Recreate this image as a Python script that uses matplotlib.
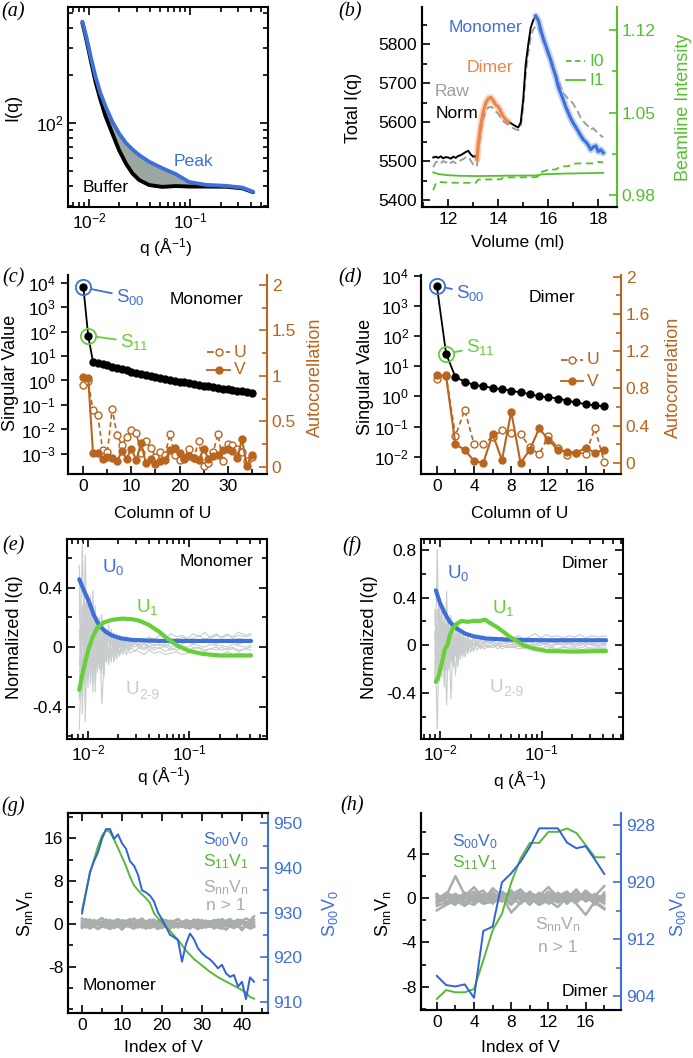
import numpy as np
import matplotlib
matplotlib.use('Agg')
import matplotlib.pyplot as plt
from matplotlib.lines import Line2D
from matplotlib.ticker import (MultipleLocator, NullFormatter, NullLocator, FuncFormatter,
                               LogLocator, FixedLocator)

plt.rcParams['font.family'] = ['Liberation Sans', 'DejaVu Sans']
plt.rcParams['mathtext.fontset'] = 'custom'
plt.rcParams['mathtext.rm'] = 'Liberation Sans'
plt.rcParams['mathtext.it'] = 'Liberation Sans:italic'
plt.rcParams['mathtext.default'] = 'regular'
plt.rcParams['axes.unicode_minus'] = False
plt.rcParams['font.size'] = 12.6
plt.rcParams['axes.linewidth'] = 1.5

BLUE = '#3f6fd9'
GREEN = '#66cf3a'
BGREEN = '#52c12c'
ORANGE = '#b8651f'
DIMER = '#ef8548'
GRAY = '#9b9f9f'
LGRAY = '#c8cccc'
DGRAY = '#a9adac'
TICK = 12.5
YLAB = 13

# ---------------- (a) buffer / peak scattering
q_a = [0.0086, 0.0094, 0.0104, 0.0116, 0.0130, 0.0146, 0.0170, 0.0198, 0.0231, 0.0269,
       0.0313, 0.0393, 0.0532, 0.0721, 0.0978, 0.143, 0.225, 0.33, 0.42]
peak_a = [438, 352, 263, 196, 154, 127, 102, 86, 75, 68, 62.7, 56.9, 51.7, 47.5, 42.3,
          40.6, 40.0, 39.0, 36.7]
buffer_a = [431, 339, 250, 182, 140, 110, 86, 67.5, 55.6, 48.0, 43.6, 40.5, 39.4, 39.9,
            39.6, 39.6, 39.5, 38.6, 36.5]

# ---------------- (b) elution profile
vol = [11.4, 11.5, 11.6, 11.7, 11.8, 11.9, 12.0, 12.1, 12.2, 12.3, 12.4, 12.5, 12.6, 12.7,
       12.8, 12.9, 13.0, 13.1, 13.15, 13.2, 13.3, 13.4, 13.5, 13.6, 13.7, 13.8, 13.9, 14.0,
       14.1, 14.2, 14.3, 14.4, 14.5, 14.6, 14.7, 14.8, 14.9, 15.0, 15.1, 15.2, 15.3, 15.4,
       15.5, 15.6, 15.7, 15.8, 15.9, 16.0, 16.1, 16.2, 16.3, 16.4, 16.5, 16.6, 16.7, 16.8,
       16.9, 17.0, 17.1, 17.2, 17.3, 17.4, 17.5, 17.6, 17.7, 17.8, 17.9, 18.0, 18.1, 18.2]
norm = [5510, 5512, 5509, 5513, 5508, 5511, 5510, 5507, 5512, 5509, 5514, 5516, 5520, 5524,
        5527, 5518, 5512, 5514, 5506, 5545, 5592, 5628, 5650, 5661, 5664, 5656, 5645, 5640,
        5628, 5615, 5607, 5602, 5598, 5594, 5590, 5587, 5600, 5660, 5750, 5800, 5843, 5862,
        5873, 5862, 5838, 5815, 5797, 5778, 5760, 5738, 5718, 5692, 5675, 5658, 5640, 5625,
        5610, 5598, 5588, 5577, 5566, 5556, 5550, 5542, 5530, 5537, 5540, 5525, 5530, 5522]
raw = [5485, 5498, 5500, 5495, 5501, 5497, 5502, 5496, 5500, 5495, 5499, 5503, 5506, 5510,
       5512, 5502, 5492, 5486, 5490, 5525, 5575, 5610, 5630, 5638, 5640, 5636, 5628, 5622,
       5612, 5603, 5598, 5595, 5590, 5585, 5582, 5580, 5590, 5640, 5725, 5778, 5818, 5838,
       5848, 5843, 5828, 5810, 5792, 5775, 5757, 5740, 5725, 5710, 5692, 5675, 5668, 5660,
       5655, 5648, 5636, 5625, 5612, 5603, 5596, 5590, 5582, 5585, 5578, 5572, 5566, 5562]
vol_beam = [11.4, 11.5, 11.6, 12.0, 12.5, 13.1, 13.2, 13.6, 14.1, 14.2, 14.8, 15.5, 15.6,
            15.75, 16.0, 16.3, 16.5, 16.8, 17.0, 17.4, 17.7, 17.9, 18.0, 18.2]
i0 = [0.9837, 0.9895, 0.9908, 0.9902, 0.9900, 0.9900, 0.9928, 0.9929, 0.9930, 0.9946,
      0.9947, 0.9948, 0.9955, 0.9994, 1.0012, 1.0014, 1.0040, 1.0042, 1.0064, 1.0066,
      1.0066, 1.0066, 1.0078, 1.0075]
i1 = [0.9989, 0.9982, 0.9975, 0.9965, 0.9960, 0.9958, 0.9958, 0.9959, 0.9960, 0.9961,
      0.9962, 0.9963, 0.9966, 0.9972, 0.9975, 0.9977, 0.9978, 0.9980, 0.9980, 0.9982,
      0.9983, 0.9984, 0.9985, 0.9985]

# ---------------- (c)/(d) singular values and autocorrelation
col_m = list(range(36))
sv_m = [6300, 68, 5.8, 5.0, 4.6, 4.1, 3.7, 3.3, 2.95, 2.6, 2.3, 2.1, 1.9, 1.7, 1.55, 1.4,
        1.28, 1.17, 1.07, 0.98, 0.9, 0.83, 0.77, 0.72, 0.67, 0.62, 0.58, 0.54, 0.5, 0.47,
        0.44, 0.41, 0.39, 0.36, 0.34, 0.32]
acU_m = [0.90, 0.94, 0.62, 0.57, 0.18, 0.16, 0.64, 0.35, 0.24, 0.33, 0.40, 0.37, 0.15,
         0.28, 0.21, 0.11, 0.16, 0.13, 0.36, 0.13, 0.07, 0.10, 0.20, 0.10, 0.28, 0.01,
         0.04, 0.16, 0.36, 0.06, 0.25, 0.24, 0.19, 0.16, 0.06, 0.11]
acV_m = [0.99, 0.98, 0.15, 0.15, 0.08, 0.11, 0.10, 0.06, 0.17, 0.09, 0.20, 0.07, 0.26,
         0.04, 0.08, 0.035, 0.06, 0.07, 0.18, 0.21, 0.15, 0.09, 0.12, 0.10, 0.07, 0.20,
         0.09, 0.12, 0.13, 0.18, 0.20, 0.17, 0.10, 0.30, 0.01, 0.13]
col_d = list(range(19))
sv_d = [4700, 26, 4.4, 3.1, 2.4, 2.2, 1.9, 1.75, 1.55, 1.35, 1.2, 1.0, 0.95, 0.85, 0.73,
        0.63, 0.55, 0.5, 0.47]
acU_d = [0.90, 0.94, 0.29, 0.57, 0.20, 0.20, 0.28, 0.35, 0.32, 0.31, 0.17, 0.09, 0.29,
         0.16, 0.08, 0.11, 0.10, 0.37, 0.01]
acV_d = [0.95, 0.93, 0.20, 0.14, 0.02, 0.0, 0.31, 0.03, 0.55, 0.0, 0.14, 0.37, 0.25, 0.14,
         0.12, 0.11, 0.16, 0.11, 0.14]

# ---------------- (e)/(f) left singular vectors
q_u0m = [0.0082, 0.00906, 0.0102, 0.0114, 0.0128, 0.0149, 0.0173, 0.021, 0.0273, 0.0503,
         0.1, 0.2, 0.41]
u0_m = [0.457, 0.385, 0.307, 0.217, 0.15, 0.105, 0.078, 0.060, 0.049, 0.042, 0.042, 0.042,
        0.042]
q_u1m = [0.0082, 0.0087, 0.0094, 0.0102, 0.011, 0.0123, 0.0143, 0.0173, 0.0218, 0.0273,
         0.0318, 0.04, 0.0503, 0.0634, 0.0795, 0.1, 0.136, 0.199, 0.41]
u1_m = [-0.287, -0.197, -0.097, -0.007, 0.06, 0.128, 0.166, 0.184, 0.192, 0.188, 0.179,
        0.15, 0.105, 0.049, 0.004, -0.025, -0.045, -0.056, -0.056]
q_u0d = [0.0091, 0.01, 0.0112, 0.0125, 0.0146, 0.0176, 0.0213, 0.029, 0.0453, 0.096, 0.43]
u0_d = [0.46, 0.354, 0.265, 0.195, 0.14, 0.098, 0.075, 0.056, 0.048, 0.042, 0.042]
q_u1d = [0.0091, 0.0096, 0.0104, 0.0112, 0.0118, 0.0125, 0.0133, 0.0146, 0.0163, 0.0186,
         0.0213, 0.0247, 0.0277, 0.031, 0.037, 0.042, 0.0488, 0.059, 0.066, 0.083, 0.112,
         0.205, 0.43]
u1_d = [-0.307, -0.265, -0.153, -0.028, 0.0, 0.084, 0.14, 0.18, 0.204, 0.196, 0.204,
        0.204, 0.215, 0.187, 0.148, 0.112, 0.07, 0.028, 0.0, -0.028, -0.048, -0.053, -0.048]

q_rest_m = [0.0082, 0.0088, 0.0094, 0.0100, 0.0106, 0.0112, 0.0118, 0.0124, 0.0130, 0.0137,
            0.0144, 0.0152, 0.0160, 0.0170, 0.0180, 0.0192, 0.0205, 0.022, 0.024, 0.026,
            0.029, 0.032, 0.036, 0.040, 0.045, 0.051, 0.058, 0.066, 0.075, 0.085, 0.097,
            0.11, 0.125, 0.143, 0.163, 0.186, 0.21, 0.24, 0.27, 0.31, 0.36, 0.41]
u_rest_m = [
    [0.55, -0.45, 0.62, -0.2, 0.35, -0.3, 0.28, -0.15, 0.2, -0.18, 0.12, -0.1, 0.1, -0.05,
     0.08, -0.03, 0.06, 0.0, 0.07, 0.02, 0.05, 0.06, 0.03, 0.07, 0.05, 0.08, 0.06, 0.09,
     0.07, 0.08, 0.06, 0.09, 0.07, 0.1, 0.06, 0.08, 0.07, 0.09, 0.06, 0.08, 0.07, 0.08],
    [-0.3, 0.28, -0.18, 0.3, -0.22, 0.18, -0.15, 0.14, 0.1, -0.38, -0.12, 0.1, -0.1, 0.08,
     -0.06, 0.05, -0.04, 0.04, -0.02, 0.03, 0.0, 0.02, -0.01, 0.03, 0.01, 0.02, 0.0, 0.03,
     0.01, 0.02, 0.04, 0.02, 0.05, 0.03, 0.04, 0.02, 0.05, 0.03, 0.04, 0.02, 0.04, 0.03],
    [0.12, -0.33, 0.24, -0.21, 0.27, -0.15, 0.18, -0.17, 0.11, -0.12, 0.1, -0.1, 0.1, -0.08,
     0.06, -0.06, 0.05, -0.03, 0.04, -0.02, 0.03, -0.01, 0.02, -0.02, 0.0, -0.01, 0.01,
     -0.02, 0.0, -0.01, -0.02, 0.0, -0.01, -0.03, -0.01, -0.02, 0.0, -0.02, -0.01, -0.03,
     -0.01, -0.02],
    [-0.35, 0.7, -0.5, 0.3, -0.25, 0.38, -0.3, 0.2, -0.15, 0.22, -0.2, 0.12, -0.12, 0.1,
     -0.05, 0.07, -0.05, 0.05, 0.0, 0.04, 0.02, 0.05, 0.03, 0.04, 0.06, 0.03, 0.05, 0.04,
     0.06, 0.05, 0.03, 0.05, 0.04, 0.06, 0.04, 0.05, 0.03, 0.05, 0.04, 0.06, 0.05, 0.04],
    [0.25, -0.18, 0.15, -0.27, 0.12, -0.12, 0.21, -0.06, 0.15, -0.08, 0.06, -0.08, 0.12,
     -0.06, 0.04, -0.08, 0.02, -0.05, 0.01, -0.04, -0.02, -0.03, -0.05, -0.02, -0.04, -0.03,
     -0.05, -0.04, -0.03, -0.05, -0.04, -0.03, -0.05, -0.04, -0.06, -0.04, -0.05, -0.03,
     -0.05, -0.04, -0.05, -0.04],
    [-0.12, 0.18, -0.24, 0.36, -0.18, 0.09, -0.12, 0.18, -0.13, 0.06, -0.15, 0.09, -0.05,
     0.05, -0.1, 0.03, -0.06, 0.02, -0.05, 0.01, -0.03, 0.0, -0.02, 0.01, -0.02, 0.0, -0.03,
     -0.01, -0.02, 0.0, -0.03, -0.01, 0.0, -0.02, -0.01, 0.0, -0.02, -0.01, 0.0, -0.02,
     -0.01, 0.0],
    [0.36, -0.12, 0.06, -0.18, 0.3, -0.24, 0.06, -0.12, 0.18, -0.03, 0.11, -0.05, 0.15, -0.1,
     0.1, -0.04, 0.08, -0.02, 0.06, 0.01, 0.04, 0.02, 0.05, 0.03, 0.04, 0.05, 0.03, 0.06,
     0.04, 0.07, 0.05, 0.06, 0.08, 0.05, 0.07, 0.09, 0.06, 0.08, 0.07, 0.1, 0.08, 0.09],
    [-0.55, 0.06, 0.3, -0.09, 0.03, 0.15, -0.21, 0.03, -0.06, 0.17, -0.03, 0.12, -0.08, 0.12,
     -0.02, 0.09, 0.0, 0.06, 0.02, 0.0, 0.04, 0.01, 0.03, 0.0, 0.02, 0.01, 0.02, 0.0, 0.02,
     0.01, 0.0, 0.02, 0.01, 0.0, 0.02, 0.01, 0.01, 0.0, 0.02, 0.01, 0.0, 0.01],
]
q_rest_d = [0.0089, 0.0094, 0.0099, 0.0104, 0.0110, 0.0116, 0.0122, 0.0128, 0.0135, 0.0142,
            0.0150, 0.0158, 0.0167, 0.0177, 0.0188, 0.0200, 0.0213, 0.023, 0.025, 0.027,
            0.030, 0.033, 0.037, 0.041, 0.046, 0.052, 0.059, 0.067, 0.076, 0.086, 0.098,
            0.11, 0.125, 0.143, 0.163, 0.186, 0.21, 0.24, 0.27, 0.31, 0.36, 0.43]
u_rest_d = [
    [0.3, -0.18, 0.24, -0.27, 0.18, -0.12, 0.21, -0.06, 0.12, -0.09, 0.1, -0.1, 0.08, -0.05,
     0.06, -0.02, 0.05, 0.0, 0.04, 0.02, 0.06, 0.03, 0.05, 0.07, 0.04, 0.06, 0.08, 0.05,
     0.07, 0.1, 0.06, 0.09, 0.07, 0.08, 0.06, 0.08, 0.07, 0.09, 0.06, 0.08, 0.07, 0.08],
    [-0.3, 0.8, -0.2, 0.3, -0.35, 0.45, -0.2, 0.25, -0.1, 0.15, -0.12, 0.08, -0.05, 0.06,
     -0.03, 0.05, 0.0, 0.03, 0.01, 0.04, 0.02, 0.03, 0.01, 0.04, 0.02, 0.03, 0.05, 0.02,
     0.04, 0.03, 0.05, 0.03, 0.04, 0.02, 0.05, 0.03, 0.04, 0.05, 0.03, 0.04, 0.05, 0.04],
    [0.1, -0.7, 0.3, -0.2, 0.2, -0.5, 0.15, -0.45, 0.05, -0.25, 0.1, -0.12, 0.05, -0.1,
     0.03, -0.06, 0.02, -0.04, 0.0, -0.03, -0.01, -0.02, 0.0, -0.03, -0.01, -0.02, 0.0,
     -0.03, -0.01, -0.02, -0.03, -0.01, -0.02, -0.03, -0.02, -0.01, -0.03, -0.02, -0.01,
     -0.03, -0.02, -0.03],
    [0.18, 0.12, -0.24, 0.3, -0.12, 0.06, -0.18, 0.12, -0.18, 0.06, -0.18, 0.12, -0.1, 0.05,
     -0.07, 0.04, -0.05, 0.02, -0.03, 0.0, -0.02, 0.01, -0.03, 0.0, -0.02, -0.01, -0.03,
     -0.02, -0.01, -0.03, -0.02, -0.04, -0.02, -0.03, -0.01, -0.03, -0.02, -0.04, -0.03,
     -0.02, -0.03, -0.02],
    [-0.24, 0.3, 0.06, -0.18, 0.24, -0.06, 0.15, -0.12, 0.09, -0.03, 0.2, -0.08, 0.1, -0.02,
     0.08, 0.0, 0.06, 0.02, 0.05, 0.01, 0.04, 0.02, 0.06, 0.03, 0.04, 0.02, 0.05, 0.03,
     0.04, 0.06, 0.03, 0.05, 0.04, 0.03, 0.05, 0.04, 0.06, 0.04, 0.05, 0.03, 0.05, 0.04],
    [0.12, -0.24, 0.36, -0.06, -0.18, 0.18, -0.09, 0.06, -0.12, 0.03, -0.1, 0.03, -0.08,
     0.04, -0.04, 0.02, -0.03, 0.01, -0.02, -0.01, 0.0, -0.02, 0.01, -0.01, 0.0, 0.01, -0.01,
     0.0, 0.01, -0.01, 0.0, 0.02, -0.01, 0.01, 0.0, 0.01, -0.01, 0.0, 0.01, 0.0, -0.01, 0.0],
    [-0.06, 0.18, -0.3, 0.12, 0.06, -0.21, 0.12, -0.15, 0.06, -0.06, 0.05, -0.05, 0.02,
     -0.04, 0.0, -0.02, 0.01, -0.01, 0.02, 0.0, 0.01, 0.03, 0.0, 0.02, 0.01, 0.0, 0.02, 0.01,
     0.03, 0.0, 0.02, 0.01, 0.0, 0.02, 0.01, 0.02, 0.0, 0.01, 0.02, 0.01, 0.0, 0.01],
    [0.27, -0.12, 0.12, 0.06, -0.15, 0.12, -0.06, 0.03, -0.09, 0.12, -0.06, 0.1, -0.04, 0.07,
     -0.02, 0.03, 0.0, 0.05, -0.01, 0.02, 0.03, 0.0, 0.02, 0.01, 0.03, 0.02, 0.0, 0.02,
     0.03, 0.01, 0.02, 0.0, 0.03, 0.01, 0.02, 0.03, 0.01, 0.02, 0.0, 0.02, 0.01, 0.02],
]

# ---------------- (g)/(h) right singular vectors
idx_g = list(range(44))
s00v0_m = [929.8, 934.5, 939.1, 941.5, 943.5, 946.5, 948.7, 948.7, 946.5, 947.5, 945.5,
           944.3, 941.5, 940.5, 938.5, 935.0, 934.5, 933.8, 932.5, 930.0, 928.5, 926.8,
           925.0, 924.5, 923.8, 919.0, 923.0, 925.3, 924.0, 922.0, 920.9, 920.1, 919.5,
           918.6, 917.5, 918.3, 916.4, 915.6, 916.0, 913.4, 914.5, 910.6, 915.5, 914.5]
s11v1_m = [2.5, 6.0, 9.5, 12.0, 14.5, 16.5, 17.5, 17.2, 15.8, 14.2, 12.5, 10.8, 8.8, 7.2,
           6.3, 5.5, 4.8, 3.9, 2.0, 1.0, 0.3, -0.6, -1.3, -2.2, -3.0, -4.0, -5.0, -5.8,
           -6.6, -7.2, -7.8, -8.4, -9.0, -9.5, -10.0, -10.4, -10.8, -11.2, -11.6, -12.0,
           -12.4, -12.9, -13.7, -14.0]
snnvn_m = [
    [1.0, 0.5, 0.8, 0.2, 0.6, 1.1, 0.3, 0.7, 0.4, 0.9, 0.2, 0.6, 0.5, 1.0, 0.3, 0.7, 0.4,
     0.8, 0.2, 0.5, 0.9, 0.3, 0.6, 0.4, 0.8, 0.2, 0.7, 0.5, 0.3, 0.8, 0.4, 0.6, 0.2, 0.7,
     0.5, 0.9, 0.3, 0.6, 0.4, 0.8, 0.5, 1.0, 0.6, 1.4],
    [-0.8, -0.3, -0.9, -0.4, -1.0, -0.5, -0.7, -0.2, -0.8, -0.4, -1.1, -0.3, -0.6, -0.9,
     -0.4, -0.7, -0.2, -0.8, -0.5, -1.0, -0.3, -0.6, -0.9, -0.2, -0.7, -0.4, -0.8, -0.3,
     -0.6, -1.0, -0.5, -0.7, -0.3, -0.9, -0.4, -0.6, -1.1, -0.4, -0.7, -0.3, -0.8, -0.5,
     -0.9, -0.6],
    [0.3, -0.2, 0.5, 0.0, 0.4, -0.3, 0.6, 0.1, -0.2, 0.4, 0.0, 0.5, -0.1, 0.3, 0.7, 0.0,
     0.4, -0.2, 0.3, 0.1, 0.5, -0.1, 0.2, 0.6, 0.0, 0.4, -0.2, 0.3, 0.5, 0.1, -0.1, 0.4,
     0.2, 0.0, 0.5, 0.1, 0.3, -0.1, 0.4, 0.2, 0.0, 0.3, 0.1, 0.4],
    [-0.4, 0.2, -0.6, 0.1, -0.3, 0.3, -0.5, 0.0, -0.2, -0.6, 0.1, -0.4, 0.2, -0.3, -0.7,
     0.0, -0.4, 0.2, -0.5, -0.1, -0.3, 0.1, -0.6, -0.2, 0.0, -0.5, 0.1, -0.3, -0.1, -0.6,
     0.0, -0.2, -0.5, 0.1, -0.3, -0.1, -0.4, 0.0, -0.6, -0.2, 0.1, -0.4, -0.2, -0.3],
    [0.6, 0.9, 0.2, 0.7, 0.4, 0.0, 0.8, 0.3, 0.6, 0.1, 0.7, 0.4, 0.9, 0.2, 0.5, 1.0, 0.3,
     0.6, 0.8, 0.2, 0.4, 0.7, 0.1, 0.5, 0.9, 0.3, 0.6, 0.2, 0.8, 0.4, 0.7, 0.1, 0.5, 0.3,
     0.8, 0.2, 0.6, 0.9, 0.3, 0.5, 0.7, 0.2, 0.5, 0.8],
    [-0.2, -0.7, -0.1, -0.5, -0.9, -0.3, -0.6, -1.0, -0.4, -0.2, -0.7, -0.5, -0.3, -0.8,
     -0.1, -0.5, -0.9, -0.4, -0.2, -0.6, -0.8, -0.3, -0.5, -0.7, -0.2, -0.6, -0.4, -0.9,
     -0.3, -0.5, -0.8, -0.2, -0.6, -0.4, -0.7, -0.9, -0.3, -0.5, -0.8, -0.4, -1.2, -0.3,
     -0.6, -0.4],
    [0.0, 0.4, -0.3, 0.2, -0.1, 0.5, -0.2, 0.3, 0.0, -0.3, 0.2, -0.1, 0.4, 0.0, -0.2, 0.3,
     -0.1, 0.1, 0.4, -0.3, 0.0, 0.2, -0.2, 0.3, -0.1, 0.1, 0.4, -0.2, 0.0, 0.2, -0.3, 0.1,
     0.3, -0.1, 0.0, 0.4, -0.2, 0.2, 0.0, -0.1, 0.3, -0.2, 0.1, 0.2],
    [-0.6, -0.1, 0.1, -0.4, 0.2, -0.2, 0.0, -0.5, 0.3, -0.1, -0.4, 0.1, -0.2, 0.2, -0.5,
     0.1, -0.3, 0.0, -0.1, 0.3, -0.4, 0.0, 0.2, -0.3, 0.1, -0.1, -0.5, 0.2, -0.2, 0.0, 0.3,
     -0.4, -0.1, 0.2, -0.2, 0.0, 0.1, -0.3, 0.2, -0.5, 0.0, -0.1, 0.2, -0.3],
]
idx_h = list(range(19))
s00v0_d = [906.9, 905.6, 905.4, 905.7, 903.8, 913.2, 913.8, 920.0, 921.3, 922.9, 925.0,
           927.6, 927.6, 927.6, 925.6, 924.8, 925.1, 923.2, 921.2]
s11v1_d = [-9.1, -8.3, -8.5, -8.5, -8.2, -5.6, -2.9, -1.4, 1.4, 3.6, 5.0, 5.0, 6.0, 6.0,
           6.3, 5.9, 4.8, 3.7, 3.7]
snnvn_d = [
    [-0.3, 0.2, 2.0, 0.3, -0.2, 0.4, 0.1, -0.3, 0.5, 0.0, -0.2, 0.3, 0.1, -0.4, 0.2, 0.0, 0.5, -0.1, 0.3],
    [0.4, -0.5, 0.3, 0.1, 0.6, -0.3, 0.9, 0.2, -0.4, 0.7, 0.1, -0.2, 0.6, 0.0, -0.3, 0.4, -0.1, 0.2, 1.1],
    [-1.1, -0.6, -0.2, -0.7, 0.0, -0.5, -0.3, 0.2, -1.3, -0.4, 0.0, -0.6, -0.2, -0.8, 0.1, -0.5, -1.5, -0.3, -0.9],
    [0.1, 0.3, -0.4, 0.2, 1.0, 0.0, 0.5, -0.2, 0.3, 0.8, -0.3, 0.2, 1.0, 0.1, 0.4, -0.2, 0.7, 0.0, -0.5],
    [-0.5, 0.0, 0.4, -0.3, -0.6, 0.2, -0.1, 0.6, 0.0, -0.5, 0.3, -0.1, -0.4, 0.5, -0.3, 0.1, -0.2, 0.4, -0.1],
    [0.2, -0.2, -0.6, 0.5, 0.1, -0.4, 0.3, 0.0, 0.7, -0.2, 0.5, 0.1, -0.3, 0.2, 0.6, -0.4, 0.3, -0.6, 0.5],
    [-0.2, 0.5, 0.1, -0.1, 0.3, 0.7, -0.5, 0.4, -0.1, 0.2, -0.6, 0.4, 0.2, -0.2, 0.0, 0.8, -0.3, 0.1, -0.3],
    [0.3, -0.3, 0.0, 0.4, -0.4, 0.2, 0.6, -0.3, 0.1, -0.1, 0.6, -0.4, 0.0, 0.3, -0.5, 0.2, 0.0, -0.2, 0.2],
    [-0.7, -0.4, 0.2, -0.5, 0.3, -0.2, -0.4, 0.1, -0.6, 0.3, -0.2, 0.5, -0.5, -0.1, 0.3, -0.3, 0.4, -0.4, -1.0],
    [0.0, 0.1, -0.2, 0.0, -0.1, 0.3, -0.2, -0.1, 0.2, 0.4, 0.0, -0.3, 0.3, 0.1, -0.1, 0.5, 0.0, 0.2, 0.0],
]

W, H = 693, 1058
fig = plt.figure(figsize=(W / 100, H / 100), dpi=100)


def box(l, t, r, b):
    return fig.add_axes([l / W, 1 - b / H, (r - l) / W, (b - t) / H])


def label(x, y, s, **kw):
    fig.text(x / W, 1 - y / H, s, ha=kw.pop('ha', 'center'), va=kw.pop('va', 'center'), **kw)


def ylabel(x, y, s, **kw):
    label(x, y, s, rotation=90, fontsize=YLAB, **kw)


def panel(x, y, s):
    label(x, y, s, family='Liberation Serif', style='italic', fontsize=14.5)


def sublabel(x, y, base, sub, color):
    # "U" with a plain-hyphen subscript such as 2-9
    label(x, y, base, ha='right', color=color, fontsize=13.5)
    label(x, y + 5, sub, ha='left', color=color, fontsize=10)


def ticks(ax, top=True, right=True, direction='in'):
    ax.tick_params(which='both', direction=direction, top=top, right=right,
                   labelsize=TICK, width=1.2)
    ax.tick_params(which='major', length=6)
    ax.tick_params(which='minor', length=3.5)


def twin_ticks(ax2, color):
    ax2.tick_params(which='both', direction='in', labelsize=TICK, width=1.2, colors=color)
    ax2.tick_params(which='major', length=6)
    ax2.tick_params(which='minor', length=3.5)
    ax2.spines['right'].set_color(color)
    ax2.spines['top'].set_visible(False)


def legline(x0, x1, y, color, ls, filled, text):
    xm = (x0 + x1) / 2
    fig.add_artist(Line2D([x0 / W, xm / W, x1 / W], [1 - y / H] * 3, transform=fig.transFigure,
                          color=color, ls=ls, lw=1.3, marker='o', markevery=[1], ms=5,
                          mfc=color if filled else 'white', mec=color))
    label(x1 + 4, y, text, ha='left', color=color)


gfmt = FuncFormatter(lambda v, p: '%g' % v)

# ======== (a)
ax = box(68, 7, 268, 207)
ax.fill_between(q_a, buffer_a, peak_a, color='#9aa8a0', lw=0)
ax.plot(q_a, buffer_a, color='black', lw=2.8, solid_capstyle='round')
ax.plot(q_a, peak_a, color=BLUE, lw=2.8, solid_capstyle='round')
ax.set_xscale('log')
ax.set_yscale('log')
ax.set_xlim(0.0062, 0.59)
ax.set_ylim(29.4, 542)
ticks(ax)
ax.xaxis.set_minor_formatter(NullFormatter())
ax.yaxis.set_minor_formatter(NullFormatter())
panel(13, 12, '(a)')
ylabel(13, 107, 'I(q)')
label(166, 248, 'q (Å$^{-1}$)')
label(193, 162, 'Peak', color=BLUE)
label(106, 187, 'Buffer')

# ======== (b)
ax = box(422, 7, 617, 207)
vol_arr = np.array(vol)
norm_arr = np.array(norm)
ax.plot(vol, raw, color=GRAY, lw=1.4, dashes=(4, 2))
ax.plot(vol, norm, color='black', lw=1.4)
dm = (vol_arr >= 13.15) & (vol_arr <= 14.45)
mm = vol_arr >= 15.45
ax.plot(vol_arr[dm], norm_arr[dm], color=DIMER, lw=5, alpha=0.35, solid_capstyle='round')
ax.plot(vol_arr[dm], norm_arr[dm], color=DIMER, lw=2.2)
ax.plot(vol_arr[mm], norm_arr[mm], color='#8fb0f0', lw=5, alpha=0.55, solid_capstyle='round')
ax.plot(vol_arr[mm], norm_arr[mm], color=BLUE, lw=2.2)
ax.set_xlim(10.95, 18.75)
ax.set_ylim(5383, 5896)
ax.xaxis.set_major_locator(MultipleLocator(2))
ax.xaxis.set_minor_locator(MultipleLocator(1))
ax.yaxis.set_major_locator(MultipleLocator(100))
ax.yaxis.set_minor_locator(MultipleLocator(50))
ticks(ax, top=False, right=False)
ax.spines['top'].set_visible(False)
ax.spines['right'].set_visible(False)
ax2 = ax.twinx()
ax2.plot(vol_beam, i0, color=BGREEN, lw=1.3, dashes=(4, 2.5))
ax2.plot(vol_beam, i1, color=BGREEN, lw=1.3)
ax2.set_ylim(0.9694, 1.140)
ax2.yaxis.set_major_locator(MultipleLocator(0.07))
ax2.yaxis.set_minor_locator(MultipleLocator(0.035))
ax2.yaxis.set_major_formatter(gfmt)
twin_ticks(ax2, BGREEN)
panel(350, 12, '(b)')
ylabel(353, 108, 'Total I(q)')
ylabel(683, 107, 'Beamline Intensity', color=BGREEN)
label(518, 243, 'Volume (ml)')
label(486, 28, 'Monomer', color=BLUE)
label(490, 67, 'Dimer', color=DIMER)
label(452, 91, 'Raw', color=GRAY)
label(457, 113, 'Norm')
fig.add_artist(Line2D([566 / W, 585 / W], [1 - 61 / H] * 2, transform=fig.transFigure,
                      color=BGREEN, lw=1.3, dashes=(3, 2)))
fig.add_artist(Line2D([566 / W, 585 / W], [1 - 80 / H] * 2, transform=fig.transFigure,
                      color=BGREEN, lw=1.3))
label(589, 61, 'I0', ha='left', color=BGREEN)
label(589, 80, 'I1', ha='left', color=BGREEN)


# ======== (c) and (d)
def svd_panel(box_px, cols, sv, acu, acv, xlim, ylim, ylim2, xmaj, xmin, ymaj2, ymin2,
              s00_xy, s11_xy):
    ax = box(*box_px)
    ax.set_yscale('log')
    ax.plot(cols, sv, '-o', color='black', lw=1.3, ms=5, zorder=3)
    ax.plot(cols[0], sv[0], 'o', ms=11, mfc='none', mec=BLUE, mew=1.3, zorder=4)
    ax.plot(cols[1], sv[1], 'o', ms=11, mfc='none', mec=GREEN, mew=1.3, zorder=4)
    ax.annotate('S$_{00}$', xy=(cols[0], sv[0]), xytext=(s00_xy[0], H - s00_xy[1]),
                textcoords='figure pixels', ha='left', va='center', color=BLUE, fontsize=13.5,
                arrowprops=dict(arrowstyle='-', color=BLUE, lw=1.3, shrinkA=1, shrinkB=6))
    ax.annotate('S$_{11}$', xy=(cols[1], sv[1]), xytext=(s11_xy[0], H - s11_xy[1]),
                textcoords='figure pixels', ha='left', va='center', color=GREEN, fontsize=13.5,
                arrowprops=dict(arrowstyle='-', color=GREEN, lw=1.3, shrinkA=1, shrinkB=6))
    ax.set_xlim(*xlim)
    ax.set_ylim(*ylim)
    ax.xaxis.set_major_locator(MultipleLocator(xmaj))
    ax.xaxis.set_minor_locator(MultipleLocator(xmin))
    ax.yaxis.set_major_locator(LogLocator(base=10, numticks=20))
    ax.yaxis.set_minor_locator(NullLocator())
    ax.tick_params(axis='y', which='both', direction='out', right=False, labelsize=TICK,
                   width=1.2, length=5)
    ax.tick_params(axis='x', which='both', direction='in', top=False, labelsize=TICK, width=1.2)
    ax.tick_params(axis='x', which='major', length=6)
    ax.tick_params(axis='x', which='minor', length=3.5)
    ax.spines['top'].set_visible(False)
    ax.spines['right'].set_visible(False)
    ax2 = ax.twinx()
    ax2.plot(cols, acu, '--o', color=ORANGE, lw=1.2, ms=5, mfc='white', mec=ORANGE,
             dashes=(3, 2))
    ax2.plot(cols, acv, '-o', color=ORANGE, lw=1.5, ms=5)
    ax2.set_ylim(*ylim2)
    ax2.yaxis.set_major_locator(MultipleLocator(ymaj2))
    ax2.yaxis.set_minor_locator(MultipleLocator(ymin2))
    ax2.yaxis.set_major_formatter(gfmt)
    twin_ticks(ax2, ORANGE)
    return ax


svd_panel((68, 275, 267, 474), col_m, sv_m, acU_m, acV_m, (-3.2, 38.2),
          (10 ** -3.82, 10 ** 4.31), (-0.08, 2.11), 10, 5, 0.5, 0.25, (116, 297), (120, 342))
panel(13, 278, '(c)')
ylabel(11, 373, 'Singular Value')
ylabel(315, 377, 'Autocorellation', color=ORANGE)
label(163, 513, 'Column of U')
label(207, 300, 'Monomer')
legline(207, 230, 352, ORANGE, '--', False, 'U')
legline(207, 230, 370, ORANGE, '-', True, 'V')

svd_panel((421, 275, 621, 474), col_d, sv_d, acU_d, acV_d, (-1.7, 19.8),
          (10 ** -2.575, 10 ** 4.03), (-0.12, 2.02), 4, 2, 0.4, 0.2, (456, 293), (466, 347))
panel(350, 278, '(d)')
ylabel(365, 377, 'Singular Value')
ylabel(673, 377, 'Autocorrelation', color=ORANGE)
label(520, 513, 'Column of U')
label(552, 298, 'Dimer')
legline(561, 583, 360, ORANGE, '--', False, 'U')
legline(561, 583, 381, ORANGE, '-', True, 'V')


# ======== (e) and (f)
def u_panel(box_px, q_rest, rest, q0, u0, q1, u1, xlim, ylim):
    ax = box(*box_px)
    for line in rest:
        ax.plot(q_rest, line, color=LGRAY, lw=0.8)
    ax.plot(q0, u0, color=BLUE, lw=3, solid_capstyle='round')
    ax.plot(q1, u1, color=GREEN, lw=3, solid_capstyle='round')
    ax.set_xscale('log')
    ax.set_xlim(*xlim)
    ax.set_ylim(*ylim)
    ax.xaxis.set_minor_formatter(NullFormatter())
    ax.yaxis.set_major_locator(MultipleLocator(0.4))
    ax.yaxis.set_minor_locator(MultipleLocator(0.2))
    ax.yaxis.set_major_formatter(gfmt)
    ticks(ax)
    return ax


u_panel((67, 539, 267, 739), q_rest_m, u_rest_m, q_u0m, u0_m, q_u1m, u1_m,
        (0.0062, 0.59), (-0.617, 0.727))
panel(13, 546, '(e)')
ylabel(15, 637, 'Normalized I(q)')
label(164, 777, 'q (Å$^{-1}$)')
label(113, 567, 'U$_0$', color=BLUE, fontsize=13.5)
label(147, 607, 'U$_1$', color=GREEN, fontsize=13.5)
sublabel(139, 690, 'U', '2-9', LGRAY)
label(217, 562, 'Monomer')

u_panel((421, 539, 623, 739), q_rest_d, u_rest_d, q_u0d, u0_d, q_u1d, u1_d,
        (0.0065, 0.63), (-0.785, 0.89))
panel(352, 546, '(f)')
ylabel(370, 637, 'Normalized I(q)')
label(520, 781, 'q (Å$^{-1}$)')
label(458, 573, 'U$_0$', color=BLUE, fontsize=13.5)
label(503, 608, 'U$_1$', color=GREEN, fontsize=13.5)
sublabel(503, 687, 'U', '2-9', LGRAY)
label(585, 563, 'Dimer')


# ======== (g) and (h)
def v_panel(box_px, idx, rest, s11, s00, xlim, ylim, ylim2, xmaj, xmin, ymajor, ymin,
            ymaj2, ymin2, top):
    ax = box(*box_px)
    for line in rest:
        ax.plot(idx, line, color=DGRAY, lw=1.8)
    ax.plot(idx, s11, color='#5ab738', lw=1.4)
    ax.set_xlim(*xlim)
    ax.set_ylim(*ylim)
    ax.xaxis.set_major_locator(MultipleLocator(xmaj))
    ax.xaxis.set_minor_locator(MultipleLocator(xmin))
    ax.yaxis.set_major_locator(FixedLocator(ymajor))
    ax.yaxis.set_minor_locator(MultipleLocator(ymin))
    ax.yaxis.set_major_formatter(gfmt)
    ticks(ax, top=top, right=False)
    ax.spines['right'].set_visible(False)
    ax.spines['top'].set_visible(top)
    ax2 = ax.twinx()
    ax2.plot(idx, s00, color='#2f62d8', lw=1.4)
    ax2.set_ylim(*ylim2)
    ax2.yaxis.set_major_locator(MultipleLocator(ymaj2))
    ax2.yaxis.set_minor_locator(MultipleLocator(ymin2))
    ax2.yaxis.set_major_formatter(gfmt)
    twin_ticks(ax2, BLUE)
    ax2.spines['top'].set_visible(top)
    return ax


v_panel((68, 813, 268, 1013), idx_g, snnvn_m, s11v1_m, s00v0_m, (-3.5, 46.5),
        (-16.7, 20.75), (907.5, 952.3), 10, 5, [-8, 0, 8, 16], 4, 10, 5, True)
panel(13, 806, '(g)')
ylabel(25, 913, 'S$_{nn}$V$_n$')
ylabel(330, 913, 'S$_{00}$V$_0$', color=BLUE)
label(163, 1048, 'Index of V')
label(226, 840, 'S$_{00}$V$_0$', color=BLUE)
label(226, 862, 'S$_{11}$V$_1$', color='#5ab738')
label(226, 888, 'S$_{nn}$V$_n$', color=DGRAY)
label(226, 906, 'n > 1', color=DGRAY)
label(120, 985, 'Monomer')

v_panel((421, 813, 621, 1010), idx_h, snnvn_d, s11v1_d, s00v0_d, (-1.7, 19.8),
        (-10.1, 7.7), (902.1, 929.75), 4, 2, [-8, -4, 0, 4], 2, 8, 4, False)
panel(352, 806, '(h)')
ylabel(383, 913, 'S$_{nn}$V$_n$')
ylabel(678, 913, 'S$_{00}$V$_0$', color=BLUE)
label(520, 1048, 'Index of V')
label(475, 842, 'S$_{00}$V$_0$', color=BLUE)
label(475, 863, 'S$_{11}$V$_1$', color='#5ab738')
label(558, 925, 'S$_{nn}$V$_n$', color=DGRAY)
label(558, 947, 'n > 1', color=DGRAY)
label(585, 992, 'Dimer')

fig.savefig('out.png', dpi=100)
